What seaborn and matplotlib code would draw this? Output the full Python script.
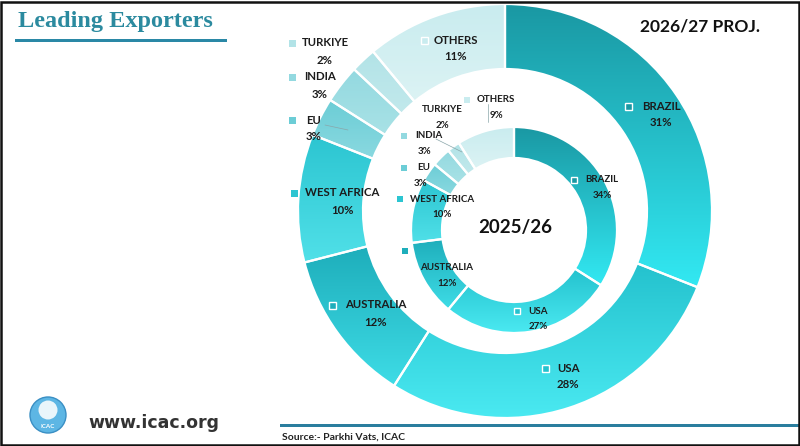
import numpy as np
import matplotlib
matplotlib.use("Agg")
import matplotlib.pyplot as plt
import seaborn as sns
from matplotlib.colors import to_rgb
from matplotlib.patches import Rectangle, Circle

sns.set_theme(style="white")
plt.rcParams['font.family'] = ['Lato', 'DejaVu Sans']

# ---------------- data ----------------
categories = ["BRAZIL", "USA", "AUSTRALIA", "WEST AFRICA", "EU", "INDIA", "TURKIYE", "OTHERS"]
share_2026_27 = [31, 28, 12, 10, 3, 3, 2, 11]   # outer ring (projection)
share_2025_26 = [34, 27, 12, 10, 3, 3, 2, 9]    # inner ring

# gradient colours per category (top -> bottom)
top_colors = ["#1a98a3", "#24c2ce", "#1eaebb", "#2cc5d1", "#6ccdd6", "#93d9e0", "#b2e3e7", "#c9ecef"]
bot_colors = ["#32e8f2", "#4ae9f1", "#3edce6", "#50e0e8", "#8ad9e0", "#a9e2e6", "#c2e9ec", "#dcf3f4"]

fig = plt.figure(figsize=(8.0, 4.46), dpi=100)
ax = fig.add_axes([0, 0, 1, 1])

H = 446


def ring(values, center, radius, width):
    wedges, _ = ax.pie(values, radius=radius, center=center, startangle=90,
                       counterclock=False, frame=True,
                       wedgeprops=dict(width=width, edgecolor='white', linewidth=1.6))
    for w, ct, cb in zip(wedges, top_colors, bot_colors):
        bb = w.get_path().get_extents(w.get_patch_transform())
        n = 64
        c0, c1 = np.array(to_rgb(ct)), np.array(to_rgb(cb))
        t = np.linspace(0, 1, n)[:, None]
        img = (c0 * (1 - t) + c1 * t)[:, None, :]
        im = ax.imshow(img, extent=[bb.x0, bb.x1, bb.y0, bb.y1], origin='upper',
                       aspect='auto', zorder=1, interpolation='bilinear')
        im.set_clip_path(w)
        w.set_facecolor('none')
        w.set_zorder(2)
    return wedges


ring(share_2026_27, center=(505, H - 211), radius=207, width=65)
ring(share_2025_26, center=(514, H - 230), radius=103, width=31)
ax.set_xlim(0, 800)
ax.set_ylim(0, 446)
ax.set_aspect('equal')
ax.axis('off')

# ---------------- labels ----------------
txt_col = "#1c1c1c"
# (x_square, y, x_text_center, hollow)
outer_pos = {
    "BRAZIL": (628, 106, 661, True),
    "USA": (545, 368, 568, True),
    "AUSTRALIA": (332, 305, 376, True),
    "WEST AFRICA": (294, 193, 342, False),
    "EU": (292, 120, 314, False),
    "INDIA": (292, 77, 320, False),
    "TURKIYE": (292, 43, 325, False),
    "OTHERS": (424, 40, 456, True),
}
inner_pos = {
    "BRAZIL": (574, 180, 602, True),
    "USA": (517, 311, 538, True),
    "AUSTRALIA": (405, 251, 447, False),
    "WEST AFRICA": (400, 199, 442, False),
    "EU": (404, 168, 424, False),
    "INDIA": (404, 136, 429, False),
    "TURKIYE": (None, 110, 442, False),
    "OTHERS": (467, 100, 496, False),
}
inner_pct_dx = {"EU": -4, "INDIA": -4, "WEST AFRICA": 0}


def put_labels(pos, values, fs, dy, sq, cols):
    for cat, v, col in zip(categories, values, cols):
        xs, y, xc, hollow = pos[cat]
        ty = 268 if (cat == "AUSTRALIA" and pos is inner_pos) else y
        dx = inner_pct_dx.get(cat, 0) if pos is inner_pos else 0
        ax.text(xc, H - ty, cat, ha='center', va='center', fontsize=fs,
                fontweight='bold', color=txt_col, zorder=5)
        ax.text(xc + dx, H - ty - dy, f"{v}%", ha='center', va='center', fontsize=fs,
                fontweight='bold', color=txt_col, zorder=5)
        if xs is not None:
            if hollow:
                ax.add_patch(Rectangle((xs - sq / 2, H - y - sq / 2), sq, sq,
                                       facecolor=col, edgecolor='white', lw=1.0, zorder=5))
            else:
                ax.add_patch(Rectangle((xs - sq / 2, H - y - sq / 2), sq, sq,
                                       facecolor=col, edgecolor='none', zorder=5))


put_labels(outer_pos, share_2026_27, 8.2, 17, 7, top_colors)
put_labels(inner_pos, share_2025_26, 7.0, 15.5, 6, top_colors)

# thin leader lines
ax.plot([325, 348], [H - 125, H - 130], color='#8aa6aa', lw=0.5, zorder=4)
ax.plot([436, 462], [H - 139, H - 152], color='#8aa6aa', lw=0.5, zorder=4)
ax.plot([488, 488], [H - 104, H - 122], color='#8aa6aa', lw=0.5, zorder=4)

# centre and corner titles
ax.text(515, H - 227, "2025/26", ha='center', va='center', fontsize=13.5,
        fontweight='bold', color='#111111', zorder=5)
ax.text(700, H - 27, "2026/27 PROJ.", ha='center', va='center', fontsize=12.5,
        fontweight='bold', color='#111111', zorder=5)

# header
ax.text(18, H - 22, "Leading Exporters", ha='left', va='center', fontsize=17.5,
        fontweight='bold', color='#2b8a9f', family=['Liberation Serif', 'DejaVu Serif'])
ax.add_patch(Rectangle((15, H - 41.5), 212, 3, facecolor='#2a88a6', edgecolor='none'))

# footer
ax.add_patch(Rectangle((280, H - 427), 520, 3.5, facecolor='#2a7e9e', edgecolor='none'))
ax.text(282, H - 437, "Source:- Parkhi Vats, ICAC", ha='left', va='center', fontsize=7.5,
        fontweight='bold', color='#222222')
ax.text(88, H - 423, "www.icac.org", ha='left', va='center', fontsize=12.5,
        fontweight='bold', color='#333333', family=['DejaVu Sans'])
ax.add_patch(Circle((48, H - 415), 18, facecolor='#5db6e4', edgecolor='#3a8fc4', lw=1, zorder=3))
ax.add_patch(Circle((48, H - 410), 9.5, facecolor='#e9f5fb', edgecolor='none', zorder=4))
ax.text(48, H - 426, "ICAC", ha='center', va='center', fontsize=4.5, fontweight='bold',
        color='white', zorder=5)

# frame border
ax.add_patch(Rectangle((1, 1), 797.5, 443.5, facecolor='none', edgecolor='#111111',
                       lw=1.8, zorder=10))

fig.savefig("out.png", dpi=100)
